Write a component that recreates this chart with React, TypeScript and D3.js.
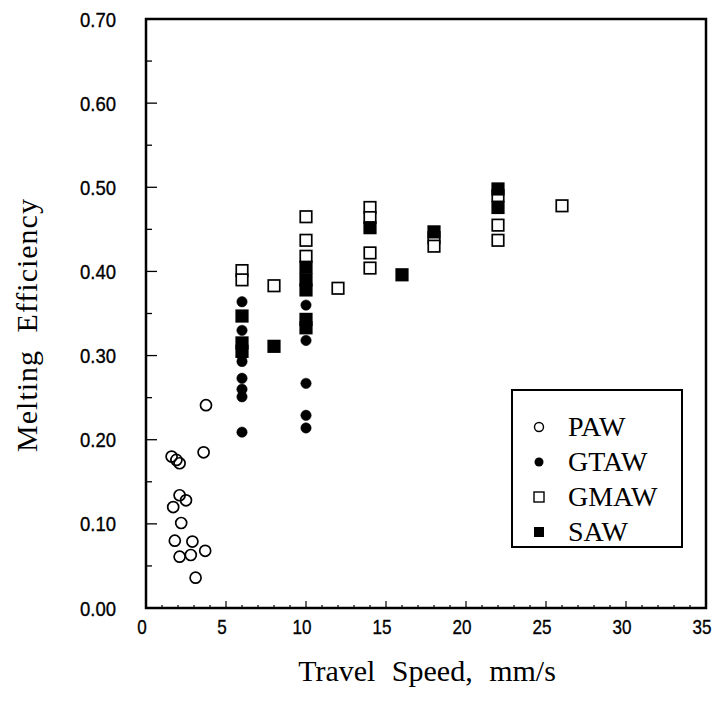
import React from "react";
import * as d3 from "d3";

const pawX = [1.6, 1.9, 2.1, 3.6, 3.75, 2.1, 2.5, 1.7, 2.2, 1.8, 2.9, 3.7, 2.1, 2.8, 3.1];
const pawY = [0.18, 0.176, 0.172, 0.185, 0.241, 0.134, 0.128, 0.12, 0.101, 0.08, 0.079, 0.068, 0.061, 0.063, 0.036];

const gtawX = [6, 6, 6, 6, 6, 6, 6, 6, 10, 10, 10, 10, 10];
const gtawY = [0.364, 0.33, 0.3, 0.293, 0.273, 0.26, 0.251, 0.209, 0.36, 0.318, 0.267, 0.229, 0.214];

const gmawX = [6, 6, 8, 10, 10, 10, 12, 14, 14, 14, 14, 18, 18, 22, 22, 22, 26];
const gmawY = [0.401, 0.39, 0.383, 0.465, 0.437, 0.418, 0.38, 0.476, 0.464, 0.422, 0.404, 0.44, 0.43, 0.49, 0.455, 0.437, 0.478];

const sawX = [6, 6, 6, 8, 10, 10, 10, 10, 10, 14, 16, 18, 22, 22];
const sawY = [0.347, 0.315, 0.305, 0.311, 0.405, 0.39, 0.378, 0.343, 0.333, 0.452, 0.396, 0.447, 0.498, 0.476];

const xTicks = [0, 5, 10, 15, 20, 25, 30, 35];
const yTicks = [0, 0.1, 0.2, 0.3, 0.4, 0.5, 0.6, 0.7];
const legendLabels = ["PAW", "GTAW", "GMAW", "SAW"];

const W = 714;
const H = 702;
const L = 146, R = 706, T = 19, B = 608;

const x = d3.scaleLinear().domain([0, 35]).range([L, R]);
const y = d3.scaleLinear().domain([0, 0.7]).range([B, T]);

const tickFont = "'Liberation Sans', Arial, sans-serif";
const serif = "'Liberation Serif', 'Times New Roman', serif";

function Circle({ cx, cy, filled }: { cx: number; cy: number; filled: boolean }) {
  return (
    <circle cx={cx} cy={cy} r={filled ? 5.2 : 5.5} fill={filled ? "#000" : "none"} stroke="#000" strokeWidth={filled ? 0.5 : 1.7} />
  );
}

function Square({ cx, cy, filled }: { cx: number; cy: number; filled: boolean }) {
  const s = 11.5;
  return (
    <rect x={cx - s / 2} y={cy - s / 2} width={s} height={s} fill={filled ? "#000" : "#fff"} stroke="#000" strokeWidth={1.7} />
  );
}

export default function App() {
  const minorX = d3.range(0, 36, 1);
  const minorY = d3.range(0, 0.701, 0.05);
  const legendRows = [427, 462, 497, 532];
  return (
    <svg width={W} height={H} style={{ position: "absolute", left: 0, top: 0, background: "#fff" }}>
      <rect x={0} y={0} width={W} height={H} fill="#fff" />
      {/* frame */}
      <rect x={L} y={T} width={R - L} height={B - T} fill="none" stroke="#000" strokeWidth={2.5} />
      {/* y ticks */}
      {minorY.map((v, i) => {
        const major = i % 2 === 0;
        return <line key={"yt" + i} x1={L} x2={L + (major ? 11 : 6)} y1={y(v)} y2={y(v)} stroke="#000" strokeWidth={1.3} />;
      })}
      {/* x ticks */}
      {minorX.map((v) => {
        const major = v % 5 === 0;
        return <line key={"xt" + v} x1={x(v)} x2={x(v)} y1={B} y2={B - (major ? 7 : 3)} stroke="#000" strokeWidth={1.2} />;
      })}
      {yTicks.map((v) => (
        <text
          key={"yl" + v}
          x={116}
          y={y(v) + 7.5}
          textAnchor="end"
          fontFamily={tickFont}
          fontSize={21}
          textLength={36}
          lengthAdjust="spacingAndGlyphs"
          stroke="#000"
          strokeWidth={0.35}
          fill="#000"
        >
          {v.toFixed(2)}
        </text>
      ))}
      {xTicks.map((v) => (
        <text
          key={"xl" + v}
          x={x(v) - 4}
          y={634}
          textAnchor="middle"
          fontFamily={tickFont}
          fontSize={21}
          textLength={String(v).length * 9.5}
          lengthAdjust="spacingAndGlyphs"
          stroke="#000"
          strokeWidth={0.35}
          fill="#000"
        >
          {v}
        </text>
      ))}
      {/* axis titles */}
      <text x={427} y={681} textAnchor="middle" fontFamily={serif} fontSize={30} wordSpacing={9} fill="#000">
        Travel Speed, mm/s
      </text>
      <text
        transform={`translate(37,325) rotate(-90)`}
        textAnchor="middle"
        fontFamily={serif}
        fontSize={30}
        letterSpacing={1}
        wordSpacing={9}
        fill="#000"
      >
        Melting Efficiency
      </text>
      {/* data */}
      {gmawX.map((v, i) => (
        <Square key={"gm" + i} cx={x(v)} cy={y(gmawY[i])} filled={false} />
      ))}
      {sawX.map((v, i) => (
        <Square key={"sa" + i} cx={x(v)} cy={y(sawY[i])} filled={true} />
      ))}
      {pawX.map((v, i) => (
        <Circle key={"pa" + i} cx={x(v)} cy={y(pawY[i])} filled={false} />
      ))}
      {gtawX.map((v, i) => (
        <Circle key={"gt" + i} cx={x(v)} cy={y(gtawY[i])} filled={true} />
      ))}
      {/* legend */}
      <rect x={512} y={390} width={170} height={157} fill="#fff" stroke="#000" strokeWidth={2} />
      {legendLabels.map((lab, i) => {
        const cy = legendRows[i];
        const mx = 539;
        let marker;
        if (i === 0) marker = <circle cx={mx} cy={cy} r={4.5} fill="none" stroke="#000" strokeWidth={1.4} />;
        else if (i === 1) marker = <circle cx={mx} cy={cy} r={4.5} fill="#000" />;
        else if (i === 2) marker = <rect x={mx - 5} y={cy - 5} width={10} height={10} fill="#fff" stroke="#000" strokeWidth={1.4} />;
        else marker = <rect x={mx - 5} y={cy - 5} width={10} height={10} fill="#000" />;
        return (
          <g key={lab}>
            {marker}
            <text x={568} y={cy + 9} fontFamily={serif} fontSize={28} fill="#000">
              {lab}
            </text>
          </g>
        );
      })}
    </svg>
  );
}
